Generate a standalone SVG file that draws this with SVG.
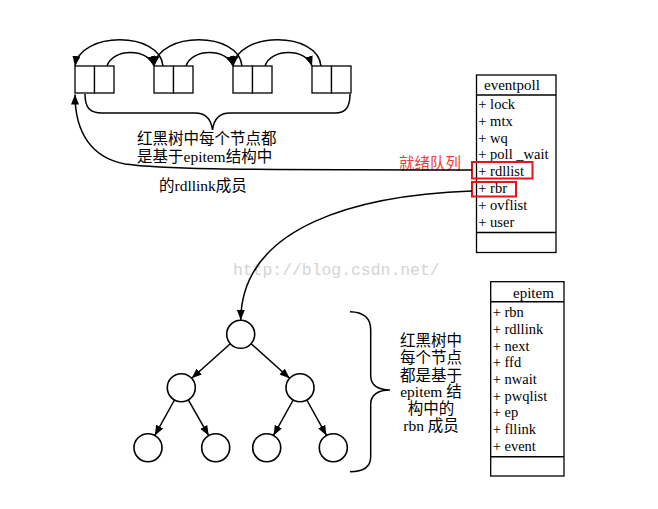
<svg xmlns="http://www.w3.org/2000/svg" width="658" height="509" viewBox="0 0 658 509">
<style>
.ln{fill:none;stroke:#000;stroke-width:1.5}
.bx{fill:#fff;stroke:#000;stroke-width:1.3}
.nd{fill:#fff;stroke:#000;stroke-width:1.6}
.red{fill:none;stroke:#e8141c;stroke-width:2}
.cn{font-family:"Liberation Serif","Noto Sans CJK SC",serif;font-size:15.5px;fill:#000}
.hd{font-family:"Liberation Serif",serif;font-size:15px;fill:#000}
.fd{font-family:"Liberation Serif",serif;font-size:14.5px;fill:#000}
.wm{font-family:"Liberation Mono",monospace;font-size:16.4px;fill:#d4d4d4}
.rt{font-family:"Noto Sans CJK SC",sans-serif;font-size:15.5px;fill:#f03c3c}
</style>
<defs>
<marker id="ah" markerUnits="userSpaceOnUse" markerWidth="10" markerHeight="8" refX="10" refY="4" orient="auto">
<path d="M0,0 L10,4 L0,8 z" fill="#000"/>
</marker>
</defs>
<rect width="658" height="509" fill="#fff"/>
<text class="wm" x="233" y="275">http://blog.csdn.net/</text>

<g id="list">
<rect class="bx" x="75" y="66" width="19.5" height="27"/>
<rect class="bx" x="94.5" y="66" width="19.5" height="27"/>
<rect class="bx" x="154" y="66" width="19.5" height="27"/>
<rect class="bx" x="173.5" y="66" width="19.5" height="27"/>
<rect class="bx" x="233" y="66" width="19.5" height="27"/>
<rect class="bx" x="252.5" y="66" width="19.5" height="27"/>
<rect class="bx" x="312" y="66" width="19.5" height="27"/>
<rect class="bx" x="331.5" y="66" width="19.5" height="27"/>
</g>

<g id="eventpoll">
<rect class="bx" x="476.5" y="75" width="79.5" height="177.5"/>
<line class="ln" x1="476.5" y1="95" x2="556" y2="95" stroke-width="1.3"/>
<line class="ln" x1="476.5" y1="232.5" x2="556" y2="232.5" stroke-width="1.3"/>
<text class="hd" x="484" y="90">eventpoll</text>
<text class="fd" x="478.3" y="108.8">+ lock</text>
<text class="fd" x="478.3" y="125.7">+ mtx</text>
<text class="fd" x="478.3" y="142.5">+ wq</text>
<text class="fd" x="478.3" y="159.4">+ poll _wait</text>
<text class="fd" x="478.3" y="176.2">+ rdllist</text>
<text class="fd" x="478.3" y="193.1">+ rbr</text>
<text class="fd" x="478.3" y="210">+ ovflist</text>
<text class="fd" x="478.3" y="226.8">+ user</text>
<rect class="red" x="472" y="162" width="60.5" height="16.5"/>
<rect class="red" x="472" y="182" width="44" height="14.5"/>
</g>

<g id="epitem">
<rect class="bx" x="490.7" y="281.7" width="73.3" height="194.3"/>
<line class="ln" x1="490.7" y1="301.7" x2="564" y2="301.7" stroke-width="1.3"/>
<line class="ln" x1="490.7" y1="456.7" x2="564" y2="456.7" stroke-width="1.3"/>
<text class="hd" x="513" y="297.5">epitem</text>
<text class="fd" x="492.7" y="317.2">+ rbn</text>
<text class="fd" x="492.7" y="333.9">+ rdllink</text>
<text class="fd" x="492.7" y="350.5">+ next</text>
<text class="fd" x="492.7" y="367.2">+ ffd</text>
<text class="fd" x="492.7" y="383.9">+ nwait</text>
<text class="fd" x="492.7" y="400.5">+ pwqlist</text>
<text class="fd" x="492.7" y="417.2">+ ep</text>
<text class="fd" x="492.7" y="433.9">+ fllink</text>
<text class="fd" x="492.7" y="450.5">+ event</text>
</g>

<g id="tree">
<circle class="nd" cx="240.7" cy="334.3" r="14"/>
<circle class="nd" cx="181.3" cy="387.7" r="14"/>
<circle class="nd" cx="300" cy="387.7" r="14"/>
<circle class="nd" cx="148" cy="447.7" r="14"/>
<circle class="nd" cx="215.7" cy="447.7" r="14"/>
<circle class="nd" cx="266.7" cy="447.7" r="14"/>
<circle class="nd" cx="333.3" cy="447.7" r="14"/>
</g>

<g id="labels">
<text class="cn" x="137" y="144">红黑树中每个节点都</text>
<text class="cn" x="137" y="162">是基于epitem结构中</text>
<text class="cn" x="159" y="191">的rdllink成员</text>
<text class="rt" x="399" y="169">就绪队列</text>
<g text-anchor="middle">
<text class="cn" x="431" y="345.7">红黑树中</text>
<text class="cn" x="431" y="363">每个节点</text>
<text class="cn" x="431" y="380.7">都是基于</text>
<text class="cn" x="431" y="397.4">epitem 结</text>
<text class="cn" x="431" y="414">构中的</text>
<text class="cn" x="431" y="430.7">rbn 成员</text>
</g>
</g>

<g id="connectors">
<path class="ln" marker-end="url(#ah)" d="M107,66 C113,48 148,48 154,66"/>
<path class="ln" marker-end="url(#ah)" d="M186,66 C192,48 227,48 233,66"/>
<path class="ln" marker-end="url(#ah)" d="M265,66 C271,48 306,48 312,66"/>
<path class="ln" marker-end="url(#ah)" d="M163,66 C160,31 80,31 75,66"/>
<path class="ln" marker-end="url(#ah)" d="M242,66 C239,31 159,31 154,66"/>
<path class="ln" marker-end="url(#ah)" d="M321,66 C318,31 238,31 233,66"/>
<path class="ln" d="M85,94 C85,108 90,113 102,113 L195,113 C205,113 211,118 212.5,130 C214,118 220,113 230,113 L335,113 C345,113 350,108 350,94"/>
<path class="ln" d="M350,311.7 C364,312 370.7,318 370.7,330 L370.7,376 C370.7,385 378,390 390,390 C378,390 370.7,395 370.7,404 L370.7,456.7 C370.7,466 364,471.7 350,471.7"/>
<path class="ln" marker-end="url(#ah)" d="M472,170 C300,169 175,171 125,164 C92,158 75,133 75,94.5"/>
<path class="ln" marker-end="url(#ah)" d="M472,191 C360,195 242,225 240.7,320"/>
<line class="ln" marker-end="url(#ah)" x1="230.3" y1="343.7" x2="191.7" y2="378.3"/>
<line class="ln" marker-end="url(#ah)" x1="251.1" y1="343.7" x2="289.6" y2="378.3"/>
<line class="ln" marker-end="url(#ah)" x1="174.5" y1="400" x2="154.8" y2="435.4"/>
<line class="ln" marker-end="url(#ah)" x1="188.3" y1="399.8" x2="208.7" y2="435.6"/>
<line class="ln" marker-end="url(#ah)" x1="293.2" y1="400" x2="273.5" y2="435.4"/>
<line class="ln" marker-end="url(#ah)" x1="306.8" y1="400" x2="326.5" y2="435.4"/>
</g>
</svg>
